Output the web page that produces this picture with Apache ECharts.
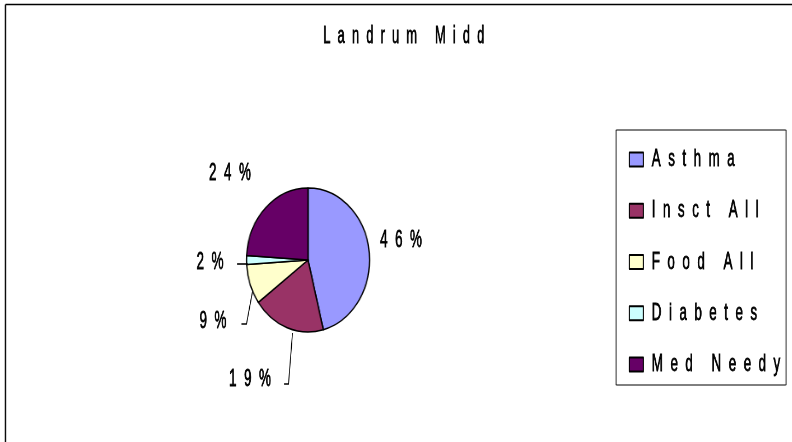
<!DOCTYPE html>
<html>
<head>
<meta charset="utf-8">
<script src="https://cdn.jsdelivr.net/npm/echarts@6/dist/echarts.min.js"></script>
<style>
  html, body { margin: 0; padding: 0; background: #fff; overflow: hidden; }
  .layer { position: absolute; left: 0; top: 0; height: 442px; transform-origin: 0 0; }
  /* the pie in the original is taller than wide */
  #pie { width: 928px; transform: scaleX(0.854); }
  /* and its text is tall and narrow */
  #txt { width: 1415px; transform: scaleX(0.56); pointer-events: none; }
</style>
</head>
<body>
<div id="pie" class="layer"></div>
<div id="txt" class="layer"></div>
<script>
  var chartTitle = 'Landrum Midd';
  var categories = ['Asthma', 'Insct All', 'Food All', 'Diabetes', 'Med Needy'];
  var shares = [46, 19, 9, 2, 24];
  var colors = ['#9999ff', '#993366', '#ffffcc', '#ccffff', '#660066'];

  var SP = 0.854, ST = 0.56;
  var font = "'Liberation Sans', Arial, sans-serif";
  var spread = function (s) { return s.split('').join('  '); };
  // squeezed glyphs come out thin, give them a little weight back
  var heavy = { textBorderColor: '#000', textBorderWidth: 0.8 };

  // label centres and leader lines, in page pixels
  var labelPos = [[401, 240], [250, 379], [213, 321], [210, 262], [230, 173]];
  var leaders = [
    null,
    [[292.5, 333], [288.5, 384], [284, 384]],
    [[252.5, 291.5], [246.5, 324], [241.5, 324]],
    [[247.7, 264], [237, 264], [237, 264]],
    null
  ];

  var pieData = categories.map(function (c, i) { return { name: c, value: shares[i] }; });

  var pieChart = echarts.init(document.getElementById('pie'));
  pieChart.setOption({
    animation: false,
    color: colors,
    graphic: [
      { type: 'line', shape: { x1: 5.5 / SP, y1: 4.5, x2: 930, y2: 4.5 }, style: { stroke: '#000', lineWidth: 1.5 } },
      { type: 'line', shape: { x1: 5.5 / SP, y1: 4.5, x2: 5.5 / SP, y2: 442 }, style: { stroke: '#000', lineWidth: 1.5 } },
      { type: 'rect', shape: { x: 616 / SP, y: 130, width: 170 / SP, height: 255 }, style: { fill: 'none', stroke: '#000', lineWidth: 1 } }
    ],
    series: [{
      type: 'pie',
      center: [308 / SP, 260],
      radius: 72,
      startAngle: 90,
      clockwise: true,
      itemStyle: { borderColor: '#000', borderWidth: 1.5 },
      label: { show: false },
      labelLine: { show: false },
      emphasis: { disabled: true },
      data: pieData
    }]
  });

  var txtChart = echarts.init(document.getElementById('txt'));
  txtChart.setOption({
    animation: false,
    color: colors,
    title: {
      text: spread(chartTitle),
      left: 401 / ST, top: 20, textAlign: 'center',
      textStyle: Object.assign({ fontFamily: font, fontSize: 23, fontWeight: 'normal', color: '#000' }, heavy)
    },
    legend: {
      orient: 'vertical',
      left: 626 / ST, top: 142,
      itemWidth: 14 / ST, itemHeight: 14, itemGap: 26.5,
      icon: 'rect',
      itemStyle: { borderColor: '#000', borderWidth: 2 },
      formatter: function (n) { return spread(n); },
      textStyle: Object.assign({ fontFamily: font, fontSize: 24, color: '#000', lineHeight: 24, padding: [0, 0, 0, 10] }, heavy),
      data: categories.map(function (c, i) { return { name: c, itemStyle: { color: colors[i] } }; })
    },
    // invisible copy of the pie that only carries the percentage labels
    series: [{
      type: 'pie',
      center: [308 / ST, 260],
      radius: 72,
      startAngle: 90,
      clockwise: true,
      itemStyle: { color: 'rgba(0,0,0,0)', borderWidth: 0 },
      label: Object.assign({
        show: true,
        fontFamily: font, fontSize: 24, color: '#000',
        formatter: function (p) { return spread(Math.round(p.percent) + '%'); }
      }, heavy),
      labelLine: { show: true, lineStyle: { color: '#000', width: 1.6 } },
      labelLayout: function (p) {
        var pos = labelPos[p.dataIndex];
        var pts = leaders[p.dataIndex];
        var out = { x: pos[0] / ST, y: pos[1], align: 'center', verticalAlign: 'middle' };
        if (pts) out.labelLinePoints = pts.map(function (q) { return [q[0] / ST, q[1]]; });
        return out;
      },
      emphasis: { disabled: true },
      data: pieData.map(function (d, i) {
        return { name: d.name, value: d.value, labelLine: { show: !!leaders[i] } };
      })
    }]
  });
</script>
</body>
</html>
